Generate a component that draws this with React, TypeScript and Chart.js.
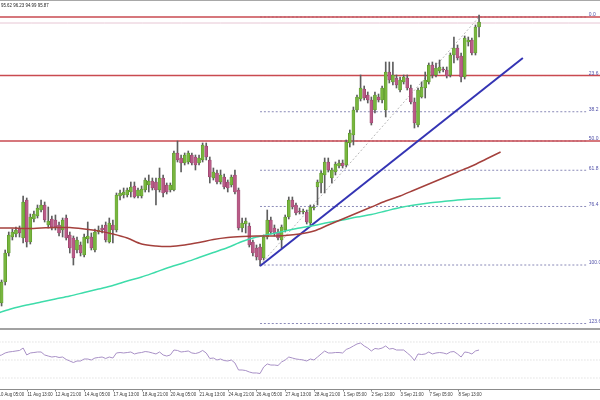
import { useEffect, useRef } from "react";
import { Chart, registerables } from "chart.js";

Chart.register(...registerables);

// ---- candle data (4H bars, index 0..134) ----
const opens = [
  93.35, 93.37, 93.58, 93.87, 94.03, 94.06, 94.11, 94.02, 94.40, 93.98,
  94.21, 94.24, 94.30, 94.35, 94.15, 94.21, 94.20, 94.15, 94.10, 94.22,
  94.05, 94.02, 93.90, 93.95, 93.85, 94.01, 94.03, 93.90, 94.08, 94.12,
  94.15, 93.98, 94.15, 94.10, 94.44, 94.45, 94.45, 94.48, 94.54, 94.44,
  94.44, 94.50, 94.55, 94.59, 94.58, 94.50, 94.62, 94.55, 94.50, 94.50,
  94.87, 94.82, 94.77, 94.78, 94.85, 94.83, 94.77, 94.80, 94.94, 94.80,
  94.62, 94.67, 94.58, 94.63, 94.58, 94.55, 94.65, 94.50, 94.12, 94.16,
  94.14, 93.98, 93.92, 93.93, 93.82, 94.03, 94.20, 94.12, 94.08, 94.00,
  94.10, 94.23, 94.40, 94.35, 94.29, 94.28, 94.28, 94.17, 94.32, 94.53,
  94.57, 94.65, 94.78, 94.62, 94.68, 94.74, 94.77, 94.75, 94.97, 95.05,
  95.30, 95.41, 95.51, 95.45, 95.40, 95.30, 95.43, 95.40, 95.30, 95.68,
  95.58, 95.62, 95.50, 95.58, 95.62, 95.52, 95.38, 95.15, 95.43, 95.52,
  95.58, 95.75, 95.65, 95.69, 95.71, 95.70, 95.65, 95.85, 95.92, 95.84,
  95.63, 95.98, 96.00, 95.87, 96.13,
];
const highs = [
  93.48, 93.60, 93.90, 94.08, 94.11, 94.13, 94.14, 94.44, 94.42, 94.26,
  94.29, 94.35, 94.40, 94.38, 94.33, 94.24, 94.25, 94.18, 94.22, 94.25,
  94.08, 94.04, 94.03, 93.98, 94.06, 94.18, 94.07, 94.11, 94.14, 94.15,
  94.18, 94.22, 94.20, 94.47, 94.50, 94.52, 94.52, 94.58, 94.58, 94.52,
  94.54, 94.62, 94.65, 94.62, 94.62, 94.72, 94.65, 94.57, 94.57, 94.89,
  94.99, 94.85, 94.87, 94.89, 94.87, 94.85, 94.85, 94.97, 94.97, 94.83,
  94.72, 94.70, 94.70, 94.66, 94.60, 94.65, 94.70, 94.52, 94.22, 94.22,
  94.17, 94.00, 93.95, 93.96, 94.05, 94.30, 94.23, 94.15, 94.11, 94.15,
  94.25, 94.43, 94.43, 94.37, 94.32, 94.31, 94.30, 94.35, 94.35, 94.60,
  94.69, 94.82, 94.82, 94.72, 94.78, 94.80, 94.80, 95.00, 95.10, 95.33,
  95.45, 95.65, 95.54, 95.48, 95.43, 95.48, 95.46, 95.54, 95.78, 95.78,
  95.78, 95.65, 95.63, 95.65, 95.65, 95.55, 95.42, 95.52, 95.58, 95.68,
  95.77, 95.78, 95.77, 95.80, 95.73, 95.73, 95.87, 96.03, 95.95, 95.87,
  96.04, 96.03, 96.02, 96.15, 96.25,
];
const lows = [
  93.30, 93.34, 93.55, 93.84, 94.00, 94.03, 94.03, 93.97, 93.93, 93.96,
  94.18, 94.22, 94.28, 94.18, 94.12, 94.10, 94.10, 94.04, 94.03, 94.00,
  93.87, 93.75, 93.87, 93.84, 93.83, 93.97, 93.90, 93.88, 94.06, 94.07,
  93.98, 93.97, 93.97, 94.08, 94.40, 94.42, 94.43, 94.43, 94.42, 94.42,
  94.42, 94.48, 94.48, 94.50, 94.35, 94.48, 94.43, 94.46, 94.48, 94.49,
  94.78, 94.68, 94.75, 94.76, 94.75, 94.70, 94.75, 94.78, 94.80, 94.57,
  94.60, 94.56, 94.56, 94.51, 94.48, 94.53, 94.46, 94.10, 94.08, 94.07,
  93.93, 93.84, 93.80, 93.74, 93.80, 94.01, 94.06, 94.04, 94.00, 93.92,
  94.08, 94.21, 94.31, 94.25, 94.26, 94.26, 94.16, 94.15, 94.30, 94.35,
  94.47, 94.47, 94.68, 94.57, 94.65, 94.72, 94.72, 94.73, 94.93, 94.95,
  95.28, 95.39, 95.40, 95.37, 95.15, 95.27, 95.38, 95.37, 95.23, 95.57,
  95.55, 95.52, 95.48, 95.56, 95.50, 95.36, 95.12, 95.13, 95.42, 95.42,
  95.56, 95.62, 95.63, 95.67, 95.68, 95.62, 95.63, 95.77, 95.80, 95.58,
  95.61, 95.94, 95.85, 95.85, 96.03,
];
const closes = [
  93.45, 93.58, 93.87, 94.05, 94.08, 94.10, 94.07, 94.38, 93.98, 94.23,
  94.26, 94.32, 94.35, 94.20, 94.19, 94.13, 94.13, 94.07, 94.20, 94.02,
  93.92, 93.82, 94.00, 93.87, 94.03, 94.04, 93.92, 94.08, 94.10, 94.10,
  94.00, 94.17, 94.10, 94.45, 94.47, 94.48, 94.50, 94.53, 94.43, 94.50,
  94.51, 94.60, 94.59, 94.52, 94.50, 94.62, 94.47, 94.48, 94.55, 94.87,
  94.80, 94.77, 94.85, 94.87, 94.77, 94.75, 94.82, 94.95, 94.83, 94.63,
  94.68, 94.58, 94.65, 94.53, 94.52, 94.63, 94.48, 94.12, 94.17, 94.19,
  93.95, 93.87, 93.83, 93.80, 94.03, 94.20, 94.08, 94.07, 94.02, 94.13,
  94.23, 94.40, 94.33, 94.27, 94.28, 94.29, 94.18, 94.33, 94.33, 94.58,
  94.67, 94.78, 94.70, 94.70, 94.76, 94.77, 94.74, 94.98, 95.07, 95.30,
  95.43, 95.52, 95.42, 95.40, 95.17, 95.45, 95.40, 95.52, 95.68, 95.60,
  95.65, 95.55, 95.60, 95.63, 95.52, 95.38, 95.17, 95.50, 95.53, 95.60,
  95.75, 95.65, 95.72, 95.73, 95.70, 95.64, 95.85, 95.92, 95.82, 95.63,
  96.02, 96.00, 95.87, 96.13, 96.18,
];

// ---- RSI (one value per bar) ----
const rsiValues = [
  54.4, 55.6, 57.8, 58.9, 59.4, 60.0, 60.6, 63.3, 55.6, 57.8,
  58.3, 58.9, 58.9, 55.6, 54.4, 53.3, 53.9, 52.8, 53.3, 50.6,
  48.9, 47.2, 48.9, 48.9, 51.1, 51.1, 50.0, 52.2, 52.8, 53.3,
  51.7, 53.3, 52.2, 57.8, 58.3, 57.8, 58.3, 58.9, 56.7, 57.8,
  58.3, 59.4, 58.9, 57.8, 56.7, 58.9, 55.6, 54.4, 55.6, 61.1,
  60.6, 58.9, 59.4, 60.0, 57.8, 57.2, 58.3, 60.6, 57.8, 51.7,
  52.2, 50.0, 51.1, 49.4, 48.9, 50.0, 46.7, 38.9, 38.9, 38.3,
  36.7, 35.6, 35.6, 35.0, 42.2, 45.6, 44.4, 44.4, 43.9, 47.8,
  50.0, 53.3, 52.2, 51.1, 50.6, 50.0, 48.9, 51.1, 50.0, 53.3,
  56.7, 60.0, 57.8, 57.8, 58.3, 58.3, 57.8, 61.7, 63.3, 65.6,
  67.8, 68.9, 65.6, 63.3, 60.0, 62.8, 62.2, 63.3, 65.6, 62.2,
  62.8, 61.1, 61.1, 61.1, 57.8, 54.4, 49.4, 56.7, 56.1, 56.7,
  58.9, 56.7, 57.8, 58.3, 57.8, 56.7, 58.9, 59.4, 56.7, 53.3,
  58.9, 58.3, 56.7, 60.0, 61.1,
];
const rsiLevels = [70, 50, 30];

// ---- moving averages (shifted forward, sampled every 4 bars) ----
const maIndex = [
  0, 4, 8, 12, 16, 20, 24, 28, 32, 36, 40, 44, 48, 52, 56, 60, 64, 68,
  72, 76, 80, 84, 88, 92, 96, 100, 104, 108, 112, 116, 120, 124, 128, 132, 136, 140,
];
const maRed = [
  94.12, 94.12, 94.115, 94.12, 94.125, 94.125, 94.11, 94.09, 94.06, 94.02, 93.96, 93.94,
  93.935, 93.95, 93.975, 94.005, 94.025, 94.035, 94.04, 94.04, 94.045, 94.06, 94.09, 94.15,
  94.21, 94.27, 94.33, 94.39, 94.44, 94.5, 94.56, 94.62, 94.68, 94.74, 94.81, 94.88,
];
const maTeal = [
  93.27, 93.315, 93.35, 93.38, 93.41, 93.44, 93.475, 93.51, 93.545, 93.59, 93.63, 93.68,
  93.73, 93.775, 93.825, 93.875, 93.925, 93.985, 94.03, 94.06, 94.09, 94.12, 94.145, 94.175,
  94.2, 94.23, 94.255, 94.29, 94.325, 94.35, 94.37, 94.385, 94.4, 94.41, 94.415, 94.42,
];

// ---- time axis labels (every 8 bars) ----
const labelBars = [0, 8, 16, 24, 32, 40, 48, 56, 64, 72, 80, 88, 96, 104, 112, 120, 128];
const timeLabels = [
  "10 Aug 05:00", "11 Aug 13:00", "12 Aug 21:00", "14 Aug 05:00", "17 Aug 13:00",
  "18 Aug 21:00", "20 Aug 05:00", "21 Aug 13:00", "24 Aug 21:00", "26 Aug 05:00",
  "27 Aug 13:00", "28 Aug 21:00", "1 Sep 05:00", "2 Sep 13:00", "3 Sep 21:00",
  "7 Sep 05:00", "8 Sep 13:00",
];

// ---- drawing objects ----
const fibLevels = [0, 23.6, 38.2, 50, 61.8, 76.4, 100, 123.6];
const fibLabels = ["0.0", "23.6", "38.2", "50.0", "61.8", "76.4", "100.0", "123.6"];
const fibHigh = 96.23;
const fibLow = 93.75;
const fibStartBar = 73;
const fibTopBar = 134;
const fibEndBar = 164.3;
const resistance = [96.23, 95.645, 94.99];
const thinLine = 96.17;
const trendStart = { x: 73, y: 93.74 };
const trendEnd = { x: 146.2, y: 95.82 };
const headerText = "95.62 96.23 94.99 95.87";

const X_MIN = 0.557;
const X_MAX = 167.69;
const PRICE_MIN = 93.12;
const PRICE_MAX = 96.4;
const RSI_MIN = 17.78;
const RSI_MAX = 83.33;

const SMALL_FONT = '5.5px "Liberation Sans", Arial, sans-serif';

const fibPrice = (L: number) => fibHigh - (L / 100) * (fibHigh - fibLow);

// draws text horizontally condensed, like the small terminal font
const narrowText = (ctx: CanvasRenderingContext2D, text: string, x: number, y: number, squeeze: number) => {
  ctx.save();
  ctx.translate(x, y);
  ctx.scale(squeeze, 1);
  ctx.fillText(text, 0, 0);
  ctx.restore();
};

export default function App() {
  const mainRef = useRef<HTMLCanvasElement>(null);
  const rsiRef = useRef<HTMLCanvasElement>(null);

  useEffect(() => {
    if (!mainRef.current || !rsiRef.current) return;
    const bars = opens.map((_, i) => i);
    const up = bars.map((i) => closes[i] >= opens[i]);
    const bull = "#78b63e";
    const bear = "#b95b87";
    const bullEdge = "#4f8a22";
    const bearEdge = "#8d3a62";

    const lineDs = (data: any[], color: string, width: number, dash: number[], order: number) => ({
      type: "line" as const,
      data,
      borderColor: color,
      borderWidth: width,
      borderDash: dash,
      pointRadius: 0,
      fill: false,
      tension: 0.3,
      order,
    });

    const mainOverlay = {
      id: "mainOverlay",
      afterDatasetsDraw(chart: any) {
        const { ctx, scales } = chart;
        const xs = scales.x;
        const ys = scales.y;
        ctx.save();
        ctx.font = SMALL_FONT;
        ctx.fillStyle = "#5050a8";
        ctx.textAlign = "left";
        ctx.textBaseline = "bottom";
        fibLevels.forEach((L, i) => {
          narrowText(ctx, fibLabels[i], xs.getPixelForValue(fibEndBar) + 1, ys.getPixelForValue(fibPrice(L)) + 0.5, 0.9);
        });
        ctx.fillStyle = "#222";
        ctx.textBaseline = "top";
        narrowText(ctx, headerText, 1, 2.5, 0.8);
        ctx.restore();
      },
    };

    const main = new Chart(mainRef.current, {
      type: "bar",
      data: {
        datasets: [
          ...resistance.map((p) => lineDs([{ x: X_MIN - 1, y: p }, { x: X_MAX + 1, y: p }], "#c94a50", 1.6, [], 3)),
          lineDs([{ x: X_MIN - 1, y: thinLine }, { x: X_MAX + 1, y: thinLine }], "#e7c6d4", 1, [], 3),
          ...fibLevels.map((L) =>
            lineDs([{ x: fibStartBar, y: fibPrice(L) }, { x: fibEndBar, y: fibPrice(L) }], "#8a8ab8", 1, [2, 2], 4)
          ),
          lineDs([{ x: fibStartBar, y: fibLow }, { x: fibTopBar, y: fibHigh }], "#b8b8b8", 1, [2, 2], 4),
          lineDs(maIndex.map((k, i) => ({ x: k, y: maRed[i] })), "#a4403c", 1.5, [], 0),
          lineDs(maIndex.map((k, i) => ({ x: k, y: maTeal[i] })), "#3edcaa", 1.5, [], 0),
          lineDs([trendStart, trendEnd], "#3434b4", 2, [], 0),
          {
            type: "bar" as const,
            data: bars.map((i) => ({ x: i, y: [opens[i], closes[i]] })),
            backgroundColor: up.map((u) => (u ? bull : bear)),
            borderColor: up.map((u) => (u ? bullEdge : bearEdge)),
            borderWidth: 0.5,
            borderSkipped: false,
            barThickness: 3,
            minBarLength: 1,
            grouped: false,
            order: 1,
          },
          {
            type: "bar" as const,
            data: bars.map((i) => ({ x: i, y: [lows[i], highs[i]] })),
            backgroundColor: "#5e5e5e",
            barThickness: 1,
            grouped: false,
            order: 2,
          },
        ] as any,
      },
      options: {
        responsive: false,
        animation: false,
        events: [],
        layout: { padding: 0 },
        plugins: { legend: { display: false }, tooltip: { enabled: false } },
        scales: {
          x: { type: "linear", min: X_MIN, max: X_MAX, display: false, offset: false },
          y: { type: "linear", min: PRICE_MIN, max: PRICE_MAX, display: false },
        },
      },
      plugins: [mainOverlay],
    } as any);

    const rsiAxis = {
      id: "rsiAxis",
      afterDraw(chart: any) {
        const { ctx, chartArea, scales } = chart;
        const xs = scales.x;
        const b = chartArea.bottom;
        ctx.save();
        ctx.strokeStyle = "#8c8c8c";
        ctx.lineWidth = 1;
        ctx.beginPath();
        ctx.moveTo(0, b + 0.5);
        ctx.lineTo(600, b + 0.5);
        ctx.stroke();
        ctx.font = SMALL_FONT;
        ctx.fillStyle = "#333";
        ctx.textAlign = "left";
        ctx.textBaseline = "alphabetic";
        labelBars.forEach((bar, i) => {
          const px = Math.round(xs.getPixelForValue(bar)) + 0.5;
          ctx.beginPath();
          ctx.moveTo(px, b);
          ctx.lineTo(px, b + 2.5);
          ctx.stroke();
          narrowText(ctx, timeLabels[i], px, b + 7, 0.78);
        });
        ctx.restore();
      },
    };

    const rsi = new Chart(rsiRef.current, {
      type: "line",
      data: {
        datasets: [
          ...rsiLevels.map((v) => ({
            data: [{ x: X_MIN - 1, y: v }, { x: X_MAX + 1, y: v }],
            borderColor: "#d2d2d2",
            borderWidth: 1,
            borderDash: [1, 2],
            pointRadius: 0,
            order: 2,
          })),
          {
            data: rsiValues.map((v, i) => ({ x: i, y: v })),
            borderColor: "#a890c6",
            borderWidth: 1,
            pointRadius: 0,
            tension: 0,
            order: 1,
          },
        ],
      },
      options: {
        responsive: false,
        animation: false,
        events: [],
        layout: { padding: { bottom: 11 } },
        plugins: { legend: { display: false }, tooltip: { enabled: false } },
        scales: {
          x: { type: "linear", min: X_MIN, max: X_MAX, display: false, offset: false },
          y: { type: "linear", min: RSI_MIN, max: RSI_MAX, display: false },
        },
      },
      plugins: [rsiAxis],
    } as any);

    return () => {
      main.destroy();
      rsi.destroy();
    };
  }, []);

  return (
    <div
      style={{
        position: "fixed",
        left: 0,
        top: 0,
        width: 600,
        height: 400,
        background: "#ffffff",
        overflow: "hidden",
      }}
    >
      <canvas ref={mainRef} width={600} height={328} style={{ position: "absolute", left: 0, top: 0 }} />
      <div style={{ position: "absolute", left: 0, top: 0, width: 600, height: 1, background: "#a8a8a8" }} />
      <div style={{ position: "absolute", left: 0, top: 328, width: 600, height: 2, background: "#a2a2a2" }} />
      <canvas ref={rsiRef} width={600} height={70} style={{ position: "absolute", left: 0, top: 330 }} />
    </div>
  );
}
